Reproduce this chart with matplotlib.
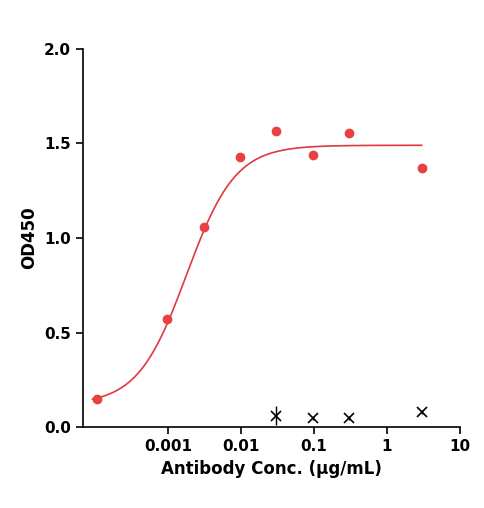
import numpy as np
import matplotlib
matplotlib.use("Agg")
import matplotlib.pyplot as plt

conc = [0.000106, 0.00097, 0.0031, 0.0097, 0.030, 0.097, 0.30, 3.0]
od = [0.148, 0.571, 1.058, 1.43, 1.566, 1.44, 1.556, 1.37]
ctrl_conc = [0.030, 0.097, 0.30, 3.0]
ctrl_od = [0.06, 0.05, 0.05, 0.08]
ctrl_err = [0.05, 0.01, 0.01, 0.01]
bottom, top, ec50, hill = 0.12, 1.49, 0.0018, 1.3

fig = plt.figure(figsize=(4.85, 5.08), dpi=100)
ax = fig.add_axes([0.171, 0.159, 0.777, 0.745])
xs = np.logspace(np.log10(0.0000925), np.log10(3.0), 300)
ax.plot(xs, bottom + (top - bottom) / (1 + (ec50 / xs) ** hill), color="#e0393e", lw=1.2)
ax.scatter(conc, od, color="#e8413f", s=36, zorder=3)
ax.errorbar(ctrl_conc, ctrl_od, yerr=ctrl_err, fmt="x", color="black", ms=7, mew=1.2, capsize=0, elinewidth=1)
ax.set_xscale("log")
ax.set_xlim(10**-4.164, 10)
ax.set_ylim(0, 2.0)
ax.set_xticks([0.001, 0.01, 0.1, 1, 10])
ax.set_xticklabels(["0.001", "0.01", "0.1", "1", "10"])
ax.set_yticks([0, 0.5, 1.0, 1.5, 2.0])
ax.set_yticklabels(["0.0", "0.5", "1.0", "1.5", "2.0"])
ax.minorticks_off()
for s in ["top", "right"]:
    ax.spines[s].set_visible(False)
for s in ["left", "bottom"]:
    ax.spines[s].set_linewidth(1.2)
ax.tick_params(width=1.2, length=5, labelsize=11)
for lab in ax.get_xticklabels() + ax.get_yticklabels():
    lab.set_fontweight("bold")
ax.set_xlabel("Antibody Conc. (μg/mL)", fontsize=12, fontweight="bold")
ax.set_ylabel("OD450", fontsize=12, fontweight="bold")
fig.savefig("out.png", dpi=100)
